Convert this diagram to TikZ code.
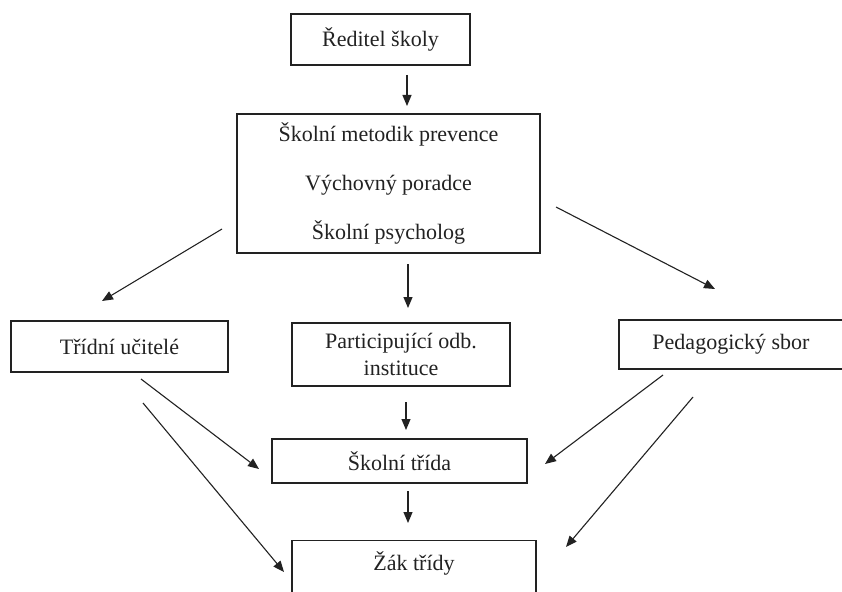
\documentclass[tikz,border=0pt]{standalone}
\usepackage{fontspec}
\setmainfont{Liberation Serif}
\usetikzlibrary{arrows.meta}
\definecolor{ink}{HTML}{222222}
\begin{document}
\begin{tikzpicture}[x=1pt,y=-1pt,
  box/.style={draw=ink, line width=1.4pt, inner sep=0pt, text=ink,
    font=\fontsize{22}{26}\selectfont, align=center},
  arr/.style={draw=ink, line width=1.1pt, -{Triangle[length=11pt,width=9pt]}}]
\clip (0,0) rectangle (842,591);
\fill[white] (0,0) rectangle (842,591);
% boxes
\node[box, minimum width=179pt, minimum height=51pt] (red) at (380.5,39.5) {Ředitel školy};
\node[box, minimum width=303pt, minimum height=139pt,
  font=\fontsize{22}{49}\selectfont] (team) at (388.5,183.5)
  {Školní metodik prevence\\Výchovný poradce\\Školní psycholog};
\node[box, minimum width=217pt, minimum height=51pt] (tu) at (119.5,346.5) {Třídní učitelé};
\node[box, minimum width=218pt, minimum height=63pt,
  font=\fontsize{22}{27}\selectfont] (part) at (401,354.5) {Participující odb.\\instituce};
\node[box, minimum width=224pt, minimum height=49pt] (ped) at (731,344.5) {Pedagogický sbor};
\node[box, minimum width=255pt, minimum height=44pt] (trida) at (399.5,461) {Školní třída};
\node[box, minimum width=244pt, text height=30pt, text depth=50pt, anchor=north] (zak) at (414,540) {Žák třídy};
% arrow end points
\coordinate (a1s) at (407,75);  \coordinate (a1e) at (407,106);
\coordinate (a2s) at (222,229); \coordinate (a2e) at (102,301);
\coordinate (a3s) at (556,207); \coordinate (a3e) at (715,289);
\coordinate (a4s) at (408,264); \coordinate (a4e) at (408,308);
\coordinate (a5s) at (406,402); \coordinate (a5e) at (406,430);
\coordinate (a6s) at (408,491); \coordinate (a6e) at (408,523);
\coordinate (a7s) at (141,379); \coordinate (a7e) at (259,469);
\coordinate (a8s) at (143,403); \coordinate (a8e) at (284,572);
\coordinate (a9s) at (663,375); \coordinate (a9e) at (545,464);
\coordinate (a10s) at (693,397); \coordinate (a10e) at (566,547);
\foreach \i in {1,...,10} {\draw[arr] (a\i s) -- (a\i e);}
\end{tikzpicture}
\end{document}
